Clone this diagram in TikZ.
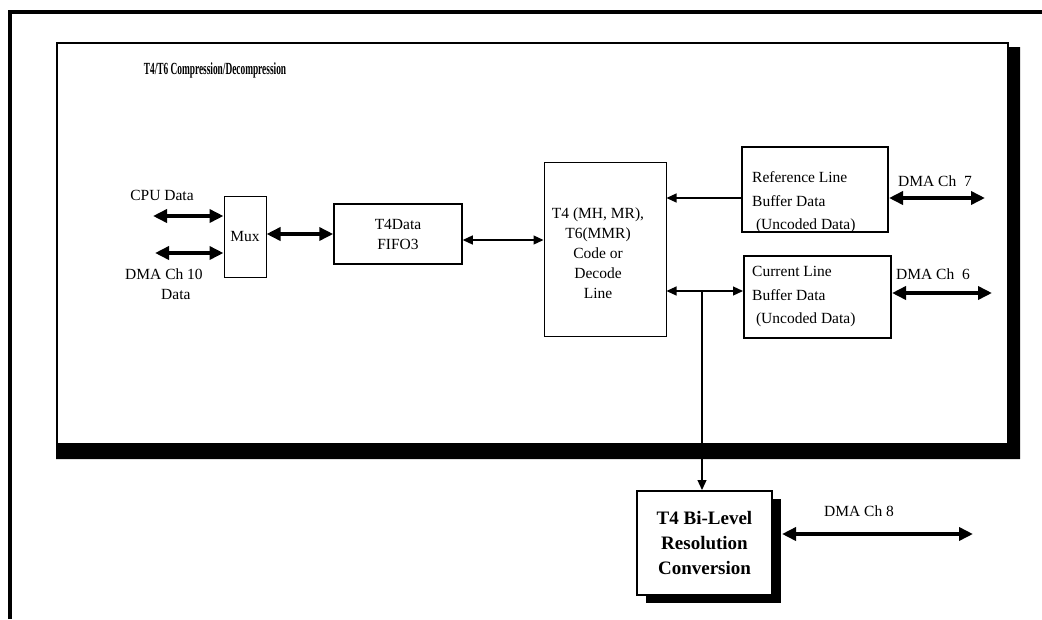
\documentclass[tikz,border=0pt]{standalone}
\usepackage{fontspec}
\setmainfont{Liberation Serif}
\usepackage{graphicx}
\usetikzlibrary{arrows.meta,shadows}

\newcommand{\narrowbold}[1]{\scalebox{0.55}[1]{\fontsize{17}{20}\selectfont\bfseries #1}}

\begin{document}
\begin{tikzpicture}[x=1pt,y=-1pt,
	font=\fontsize{15.5}{20}\selectfont,
	block/.style={draw, line width=1pt, inner sep=0pt, align=center},
	bufbox/.style={draw, line width=2pt, inner sep=0pt},
	buftext/.style={inner sep=0pt, align=left, anchor=west, font=\fontsize{15.5}{23.5}\selectfont},
	bigarrow/.style={line width=4pt, {Triangle[length=14pt,width=13pt]}-{Triangle[length=14pt,width=13pt]}},
	thinarrow/.style={line width=1.2pt, {Triangle[length=10pt,width=9pt]}-{Triangle[length=10pt,width=9pt]}},
	onearrow/.style={line width=1.2pt, -{Triangle[length=10pt,width=9pt]}}]

\useasboundingbox (0,0) rectangle (1042,619);

% Rahmen
	\draw[line width=4.5pt] (10,619) -- (10,12) -- (1042,12);

	\fill (1008,47) -- (1020,47) -- (1020,459) -- (56,459) -- (56,444) -- (1008,444) -- cycle;
	\draw[line width=2pt] (57,43) rectangle (1008,444);

	\node (title) at (215,70) {\narrowbold{T4/T6 Compression/Decompression}};

% Bloecke
\node[block, minimum width=42, minimum height=81] (mux) at (245,236.5) {Mux};
\node[block, line width=1.5pt, minimum width=128, minimum height=60] (fifo) at (398,234) {T4Data\\FIFO3};
\node[block, minimum width=122, minimum height=174] (t4) at (605,249) {};
\node[inner sep=0pt, align=center] (t4text) at (598,253) {T4 (MH, MR),\\T6(MMR)\\Code or\\Decode\\Line};

\node[bufbox, minimum width=146, minimum height=85] (ref) at (815,189.5) {};
\node[buftext] (reftext) at (752,202.5) {Reference Line\\Buffer Data\\\ (Uncoded Data)};
\node[bufbox, minimum width=147, minimum height=82] (cur) at (817.5,297) {};
\node[buftext] (curtext) at (752,297) {Current Line\\Buffer Data\\\ (Uncoded Data)};

\node[draw, fill=white, line width=2pt, minimum width=135, minimum height=104, inner sep=0pt, align=center,
	font=\fontsize{19}{25}\selectfont\bfseries,
	drop shadow={shadow xshift=9pt, shadow yshift=-8pt, fill=black, opacity=1}] (bilevel) at (704.5,543)
	{T4 Bi-Level\\Resolution\\Conversion};

% Beschriftungen
\node (cpulabel) at (162,195) {CPU Data};
\node[align=left] (dmatenlabel) at (164,284) {DMA Ch 10\\\hspace*{36pt}Data};
\node (dmasevenlabel) at (935,181) {DMA Ch\ \ 7};
\node (dmasixlabel) at (933,274) {DMA Ch\ \ 6};
\node (dmaeightlabel) at (859,511) {DMA Ch 8};

% Verbindungen
\coordinate (cpuend) at (153,216);
\coordinate (dmatenend) at (155,253);
	\draw[bigarrow] (cpuend) -- (cpuend -| mux.west);
	\draw[bigarrow] (dmatenend) -- (dmatenend -| mux.west);
	\draw[bigarrow] (mux.east |- fifo.west) -- (fifo.west);
	\draw[thinarrow] ([yshift=-6pt]fifo.east) -- ([yshift=-6pt]fifo.east -| t4.west);
	\draw[onearrow] ([yshift=-8.5pt]ref.west) -- ([yshift=-8.5pt]ref.west -| t4.east);
	\draw[thinarrow] ([yshift=6pt]cur.west -| t4.east) -- ([yshift=6pt]cur.west);

\coordinate (dmasevenend) at (985,198);
\coordinate (dmasixend) at (992,293);
\coordinate (dmaeightend) at (973,534);
\coordinate (junction) at (702,291);
	\draw[bigarrow] ([yshift=-8.5pt]ref.east) -- (dmasevenend);
	\draw[bigarrow] ([yshift=4pt]cur.east) -- (dmasixend);
	\draw[onearrow] (junction) -- (junction |- bilevel.north);
	\draw[bigarrow, line width=3.5pt] ([xshift=9pt,yshift=9pt]bilevel.east) -- (dmaeightend);

\end{tikzpicture}
\end{document}
